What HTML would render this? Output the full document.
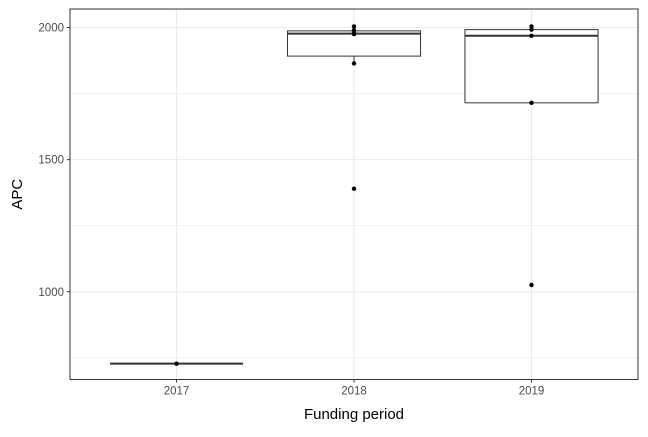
<!DOCTYPE html>
<html><head><meta charset="utf-8"><style>
body{margin:0;background:#fff;font-family:"Liberation Sans",sans-serif}
text{font-family:"Liberation Sans",sans-serif}
</style></head><body>
<svg id="chart" width="648" height="432" viewBox="0 0 648 432"></svg>
<script>
const categories=["2017","2018","2019"];
const seriesValues=[[728],[1390,1864,1975,1979,1990,2004],[1026,1715,1969,1992,2004]];
const yTicks=[1000,1500,2000];
const yMinor=[750,1250,1750];
const svg=document.getElementById('chart');
const NS='http://www.w3.org/2000/svg';
const L=70,R=638,T=9,B=379.5,ymin=668,ymax=2070;
const x=i=>L+(i+1-0.4)/3.2*(R-L);
const y=v=>B-(v-ymin)/(ymax-ymin)*(B-T);
const bw=(R-L)/3.2*0.75;
function el(t,a,name,p){const e=document.createElementNS(NS,t);for(const k in a)e.setAttribute(k,a[k]);(p||svg).appendChild(e);return e;}
el('rect',{x:L,y:T,width:R-L,height:B-T,fill:'#fff'},'plot-panel');
yMinor.forEach(v=>el('line',{x1:L,x2:R,y1:y(v),y2:y(v),stroke:'#ebebeb','stroke-width':0.6},'minor-gridline'));
yTicks.forEach(v=>el('line',{x1:L,x2:R,y1:y(v),y2:y(v),stroke:'#ebebeb','stroke-width':1.1},'major-gridline'));
categories.forEach((c,i)=>el('line',{x1:x(i),x2:x(i),y1:T,y2:B,stroke:'#ebebeb','stroke-width':1.1},'x-gridline'));
function q(a,p){const s=[...a].sort((m,n)=>m-n);const h=(s.length-1)*p;const lo=Math.floor(h);return s[lo]+(h-lo)*((s[Math.ceil(h)]??s[lo])-s[lo]);}
seriesValues.forEach((vals,i)=>{
 const g=el('g',{},'box-'+categories[i]);
 const q1=q(vals,.25),md=q(vals,.5),q3=q(vals,.75),iqr=q3-q1;
 const inl=vals.filter(v=>v>=q1-1.5*iqr&&v<=q3+1.5*iqr);
 const lo=Math.min(...inl),hi=Math.max(...inl);
 el('line',{x1:x(i),x2:x(i),y1:y(hi),y2:y(q3),stroke:'#333','stroke-width':1},'upper-whisker',g);
 el('line',{x1:x(i),x2:x(i),y1:y(q1),y2:y(lo),stroke:'#333','stroke-width':1},'lower-whisker',g);
 el('rect',{x:x(i)-bw/2,y:y(q3),width:bw,height:Math.max(0,y(q1)-y(q3)),fill:'#fff',stroke:'#333','stroke-width':1},'box-iqr',g);
 el('line',{x1:x(i)-bw/2,x2:x(i)+bw/2,y1:y(md),y2:y(md),stroke:'#333','stroke-width':2},'median-line',g);
 vals.forEach(v=>el('circle',{cx:x(i),cy:y(v),r:2.2,fill:'#000'},'data-point',g));
});
el('rect',{x:L,y:T,width:R-L,height:B-T,fill:'none',stroke:'#333','stroke-width':1},'panel-border');
yTicks.forEach(v=>{el('line',{x1:L-3,x2:L,y1:y(v),y2:y(v),stroke:'#333'},'y-tick');
 const t=el('text',{x:L-6,y:y(v)+4,'text-anchor':'end','font-size':11.5,fill:'#4d4d4d'},'y-tick-label');t.textContent=v;});
categories.forEach((c,i)=>{el('line',{x1:x(i),x2:x(i),y1:B,y2:B+3,stroke:'#333'},'x-tick');
 const t=el('text',{x:x(i),y:B+15,'text-anchor':'middle','font-size':11.5,fill:'#4d4d4d'},'x-tick-label');t.textContent=c;});
const xt=el('text',{x:(L+R)/2,y:419,'text-anchor':'middle','font-size':15,fill:'#000'},'x-axis-title');xt.textContent='Funding period';
const yt=el('text',{x:0,y:0,'text-anchor':'middle','font-size':15,fill:'#000',transform:`translate(22,${(T+B)/2}) rotate(-90)`},'y-axis-title');yt.textContent='APC';
</script>
</body></html>
